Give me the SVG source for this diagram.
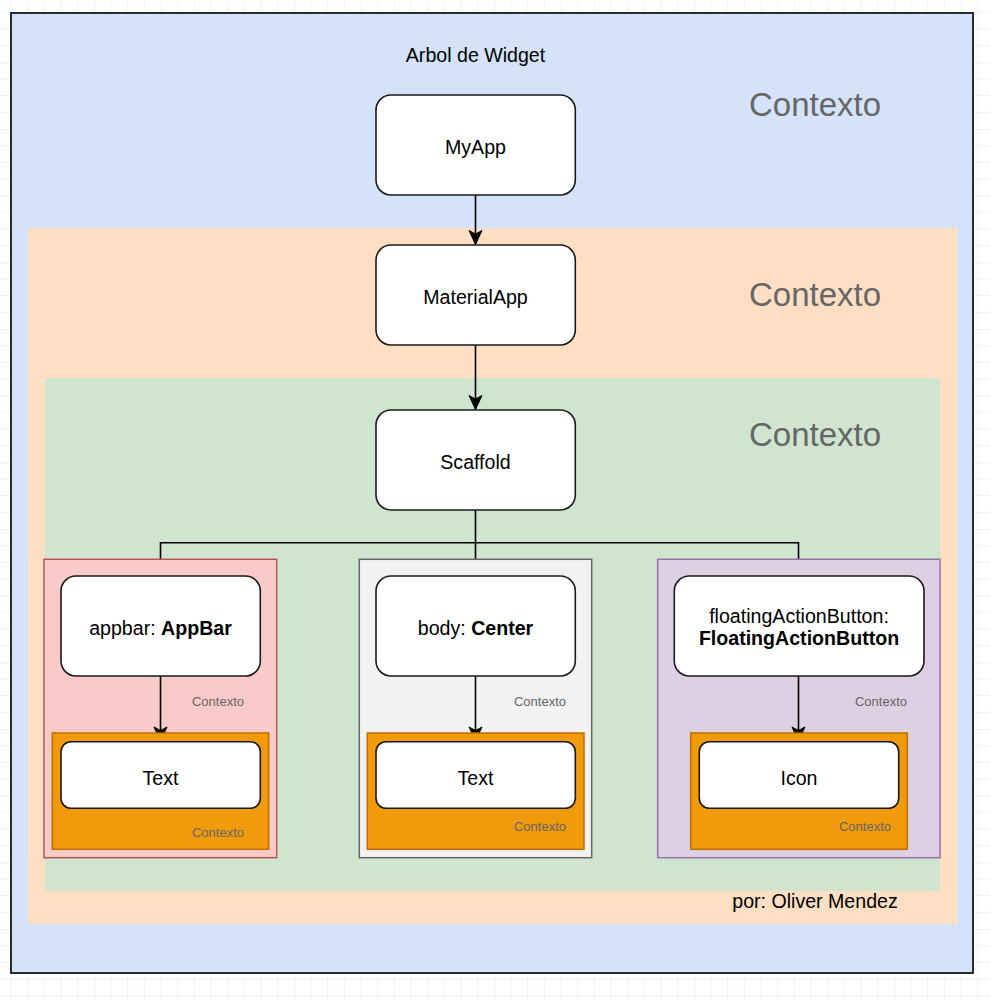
<svg xmlns="http://www.w3.org/2000/svg" width="991" height="1000" viewBox="0 0 991 1000">
<defs>
<pattern id="grid" patternUnits="userSpaceOnUse" x="27.67" y="62.33" width="66.667" height="66.667">
<path d="M16.667 0V66.667M33.333 0V66.667M50 0V66.667M0 16.667H66.667M0 33.333H66.667M0 50H66.667" stroke="#f1f1f1" stroke-width="1" fill="none"/>
<path d="M0 0V66.667M0 0H66.667" stroke="#e4e4e4" stroke-width="1.2" fill="none"/>
</pattern>
<marker id="arr" markerUnits="userSpaceOnUse" markerWidth="16" markerHeight="16" viewBox="0 0 16 16" refX="15" refY="8" orient="auto">
<path d="M15 8 L1 1.5 L4.5 8 L1 14.5 Z" fill="#000" stroke="#000" stroke-width="1"/>
</marker>
<style>
.node{fill:#fff;stroke:#1a1a1a;stroke-width:1.6}
.t{font-family:"Liberation Sans",Arial,sans-serif;font-size:19.6px;fill:#000;text-anchor:middle}
.b{font-weight:bold}
.big{font-family:"Liberation Sans",Arial,sans-serif;font-size:33px;fill:#666}
.sm{font-family:"Liberation Sans",Arial,sans-serif;font-size:13px;fill:#666;text-anchor:middle}
.edge{fill:none;stroke:#000;stroke-width:1.6}
.ob{fill:#f09a0c;stroke:#bd7000;stroke-width:1.5}
</style>
</defs>
<rect width="991" height="1000" fill="#fff"/>
<rect width="991" height="1000" fill="url(#grid)"/>

<g id="containers">
<rect id="ctx-app" x="11" y="13" width="962" height="960" fill="#d4e3fa" stroke="#2b2b2b" stroke-width="2"/>
<rect id="ctx-material" x="28" y="228" width="929" height="696" fill="#ffdfc4"/>
<rect id="ctx-scaffold" x="45" y="378" width="895" height="513" fill="#d0e5cf"/>
</g>

<g id="title">
<text class="t" x="475.5" y="62">Arbol de Widget</text>
<text class="big" x="749" y="116">Contexto</text>
<text class="big" x="749" y="306">Contexto</text>
<text class="big" x="749" y="446">Contexto</text>
<text class="t" x="815" y="908">por: Oliver Mendez</text>
</g>

<g id="connectors-scaffold">
<path class="edge" d="M475.5 510 V542.7 M160.5 559 V542.7 H798.5 V559 M475.5 542.7 V559"/>
</g>

<g id="ctx-appbar">
<rect x="44" y="559.3" width="232.7" height="298.4" fill="#f8cbc9" stroke="#b85450" stroke-width="1.5"/>
<text class="sm" x="218" y="705.5">Contexto</text>
</g>
<g id="ctx-body">
<rect x="359.3" y="559.3" width="232.4" height="298.4" fill="#f2f2f2" stroke="#666" stroke-width="1.5"/>
<text class="sm" x="540" y="705.5">Contexto</text>
</g>
<g id="ctx-fab">
<rect x="657.7" y="559.3" width="282.3" height="298.4" fill="#ddd0e3" stroke="#9673a6" stroke-width="1.5"/>
<text class="sm" x="881" y="705.5">Contexto</text>
</g>

<g id="connectors">
<line class="edge" x1="475.5" y1="195" x2="475.5" y2="244.5" marker-end="url(#arr)"/>
<line class="edge" x1="475.5" y1="345" x2="475.5" y2="409.5" marker-end="url(#arr)"/>
<line class="edge" x1="160.5" y1="676" x2="160.5" y2="741" marker-end="url(#arr)"/>
<line class="edge" x1="475.5" y1="676" x2="475.5" y2="741" marker-end="url(#arr)"/>
<line class="edge" x1="798.5" y1="676" x2="798.5" y2="741" marker-end="url(#arr)"/>
</g>

<g id="ctx-text1">
<rect class="ob" x="52.3" y="733" width="216.4" height="116.3"/>
<text class="sm" x="218" y="837">Contexto</text>
</g>
<g id="ctx-text2">
<rect class="ob" x="367.3" y="733" width="216.7" height="116.3"/>
<text class="sm" x="540" y="830.5">Contexto</text>
</g>
<g id="ctx-icon">
<rect class="ob" x="690.7" y="733" width="216.6" height="116.3"/>
<text class="sm" x="865" y="830.5">Contexto</text>
</g>

<g id="MyApp">
<rect class="node" x="376" y="95" width="199.3" height="100" rx="15"/>
<text class="t" x="475.5" y="154">MyApp</text>
</g>
<g id="MaterialApp">
<rect class="node" x="376" y="245" width="199.3" height="100" rx="15"/>
<text class="t" x="475.5" y="304">MaterialApp</text>
</g>
<g id="Scaffold">
<rect class="node" x="376" y="410" width="199.3" height="100" rx="15"/>
<text class="t" x="475.5" y="469">Scaffold</text>
</g>
<g id="AppBar">
<rect class="node" x="61" y="576" width="199.3" height="100" rx="15"/>
<text class="t" x="160.5" y="635">appbar: <tspan class="b">AppBar</tspan></text>
</g>
<g id="Center">
<rect class="node" x="376" y="576" width="199.3" height="100" rx="15"/>
<text class="t" x="475.5" y="635">body: <tspan class="b">Center</tspan></text>
</g>
<g id="FloatingActionButton">
<rect class="node" x="674.3" y="576" width="249.7" height="100" rx="15"/>
<text class="t" x="799" y="623">floatingActionButton:</text>
<text class="t b" x="799" y="645">FloatingActionButton</text>
</g>
<g id="Text1">
<rect class="node" x="61" y="741.7" width="199.3" height="66.6" rx="10"/>
<text class="t" x="160.5" y="785">Text</text>
</g>
<g id="Text2">
<rect class="node" x="376" y="741.7" width="199.3" height="66.6" rx="10"/>
<text class="t" x="475.5" y="785">Text</text>
</g>
<g id="Icon">
<rect class="node" x="699.3" y="741.7" width="199.4" height="66.6" rx="10"/>
<text class="t" x="799" y="785">Icon</text>
</g>
</svg>
